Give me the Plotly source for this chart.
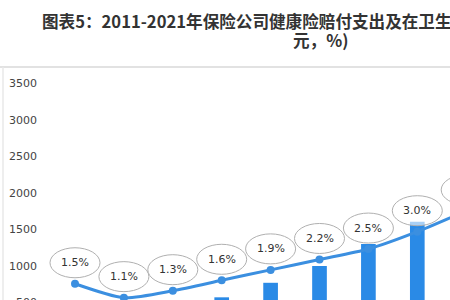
import plotly.graph_objects as go

years = [2011, 2012, 2013, 2014, 2015, 2016, 2017, 2018, 2019]
claims = [360, 300, 410, 571, 770, 1000, 1300, 1605, 2350]  # 亿元
share = [1.5, 1.1, 1.3, 1.6, 1.9, 2.2, 2.5, 3.0, 3.6]  # %
share_labels = ["1.5%", "1.1%", "1.3%", "1.6%", "1.9%", "2.2%", "2.5%", "3.0%", "3.6%"]
yticks = [0, 500, 1000, 1500, 2000, 2500, 3000, 3500]
title1 = "图表5：2011-2021年保险公司健康险赔付支出及在卫生总费用中的占比（单位：亿"
title2 = "元，%)"

W, H = 480, 345
L, R, T, B = 45, 0, 70, 6
plot_w = W - L - R
plot_h = H - T - B

def px_x(p):
    return (p - L) / plot_w

def px_y(p):
    return (H - B - p) / plot_h

fig = go.Figure()
fig.add_trace(go.Bar(x=years, y=claims, width=0.3, marker_color="#2a8ae6",
                     marker_line_width=0, yaxis="y"))
fig.add_trace(go.Scatter(x=years, y=share, yaxis="y2", mode="lines+markers",
                         line=dict(color="#3b8fe0", width=3, shape="spline", smoothing=0.7),
                         marker=dict(size=8, color="#3b8fe0")))

shapes = []
annotations = []
for yr, s, lab in zip(years, share, share_labels):
    shapes.append(dict(type="circle", xref="x", yref="y2", xsizemode="pixel", ysizemode="pixel",
                       xanchor=yr, yanchor=s, x0=-25, x1=25, y0=6, y1=36,
                       line=dict(color="#b0b0b0", width=1), fillcolor="rgba(255,255,255,0.6)"))
    annotations.append(dict(x=yr, y=s, xref="x", yref="y2", text=lab, showarrow=False,
                            yshift=21, font=dict(family="DejaVu Sans", size=11, color="#333333")))

# container frame
shapes.append(dict(type="line", xref="paper", yref="paper", x0=px_x(0), x1=px_x(W),
                   y0=px_y(67), y1=px_y(67), line=dict(color="#e2e2e2", width=2)))
shapes.append(dict(type="line", xref="paper", yref="paper", x0=px_x(3), x1=px_x(3),
                   y0=px_y(67), y1=px_y(H), line=dict(color="#e8e8e8", width=1.5)))

annotations.append(dict(text="<b>" + title1 + "</b>", xref="paper", yref="paper",
                        x=px_x(40), y=px_y(21), xanchor="left", yanchor="middle", showarrow=False,
                        font=dict(family="Noto Sans CJK SC", size=16.6, color="#333333")))
annotations.append(dict(text="<b>" + title2 + "</b>", xref="paper", yref="paper",
                        x=px_x(320), y=px_y(40), xanchor="center", yanchor="middle", showarrow=False,
                        font=dict(family="Noto Sans CJK SC", size=16.6, color="#333333")))

x_lo = 2011 + (L - 75) / 48.9
x_hi = 2011 + (W - R - 75) / 48.9
y_hi = (339 - T) / 0.073
p_lo = 1.3 - (339 - 290.7) / 34.7
p_hi = 1.3 + (290.7 - T) / 34.7

fig.update_layout(
    width=W, height=H,
    margin=dict(l=L, r=R, t=T, b=B, pad=0),
    paper_bgcolor="white", plot_bgcolor="white",
    showlegend=False,
    xaxis=dict(range=[x_lo, x_hi], showgrid=False, zeroline=False, showticklabels=False,
               showline=False, ticks=""),
    yaxis=dict(range=[0, y_hi], tickvals=yticks, showgrid=False, zeroline=False,
               showline=False, ticks="", ticklabelstandoff=7,
               tickfont=dict(family="DejaVu Sans", size=11, color="#444444")),
    yaxis2=dict(range=[p_lo, p_hi], overlaying="y", side="right", visible=False),
    shapes=shapes, annotations=annotations,
)

fig.write_html("out.html",
               post_script="document.body.style.margin='0';document.body.style.overflow='hidden';"
                           "document.documentElement.style.overflow='hidden';")
